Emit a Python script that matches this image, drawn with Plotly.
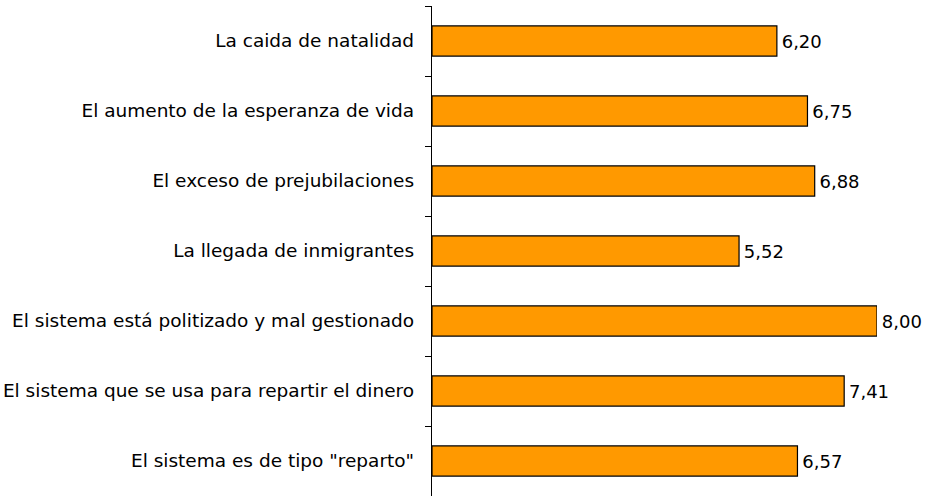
import plotly.graph_objects as go

categories = [
    "La caida de natalidad",
    "El aumento de la esperanza de vida",
    "El exceso de prejubilaciones",
    "La llegada de inmigrantes",
    "El sistema está politizado y mal gestionado",
    "El sistema que se usa para repartir el dinero",
    'El sistema es de tipo "reparto"',
]
values = [6.20, 6.75, 6.88, 5.52, 8.00, 7.41, 6.57]

fig = go.Figure(
    go.Bar(
        x=values,
        y=categories,
        orientation="h",
        marker=dict(color="#FF9900", line=dict(color="#000000", width=1.2)),
        width=0.43,
        texttemplate="\u200a%{x:.2f}",
        textposition="outside",
        textfont=dict(family="DejaVu Sans", size=18, color="#000000"),
        cliponaxis=False,
    )
)

fig.update_layout(
    width=925,
    height=497,
    margin=dict(l=432, r=48, t=6, b=1, autoexpand=False),
    paper_bgcolor="white",
    plot_bgcolor="white",
    separators=",.",
    showlegend=False,
    uniformtext=dict(minsize=18, mode="show"),
    font=dict(family="DejaVu Sans", size=18.5, color="#000000"),
    xaxis=dict(
        range=[0, 8],
        visible=False,
        showgrid=False,
        zeroline=False,
        automargin=False,
    ),
    yaxis=dict(
        autorange="reversed",
        automargin=False,
        showline=True,
        linecolor="#000000",
        linewidth=1.2,
        ticks="outside",
        tickson="boundaries",
        ticklen=6,
        tickcolor="#000000",
        ticklabelstandoff=13,
        showgrid=False,
        zeroline=False,
        tickfont=dict(family="DejaVu Sans", size=18.5, color="#000000"),
    ),
)

fig.write_html(
    "out.html",
    config={"displayModeBar": False, "staticPlot": True},
    post_script="document.body.style.margin='0';document.body.style.overflow='hidden';",
)
